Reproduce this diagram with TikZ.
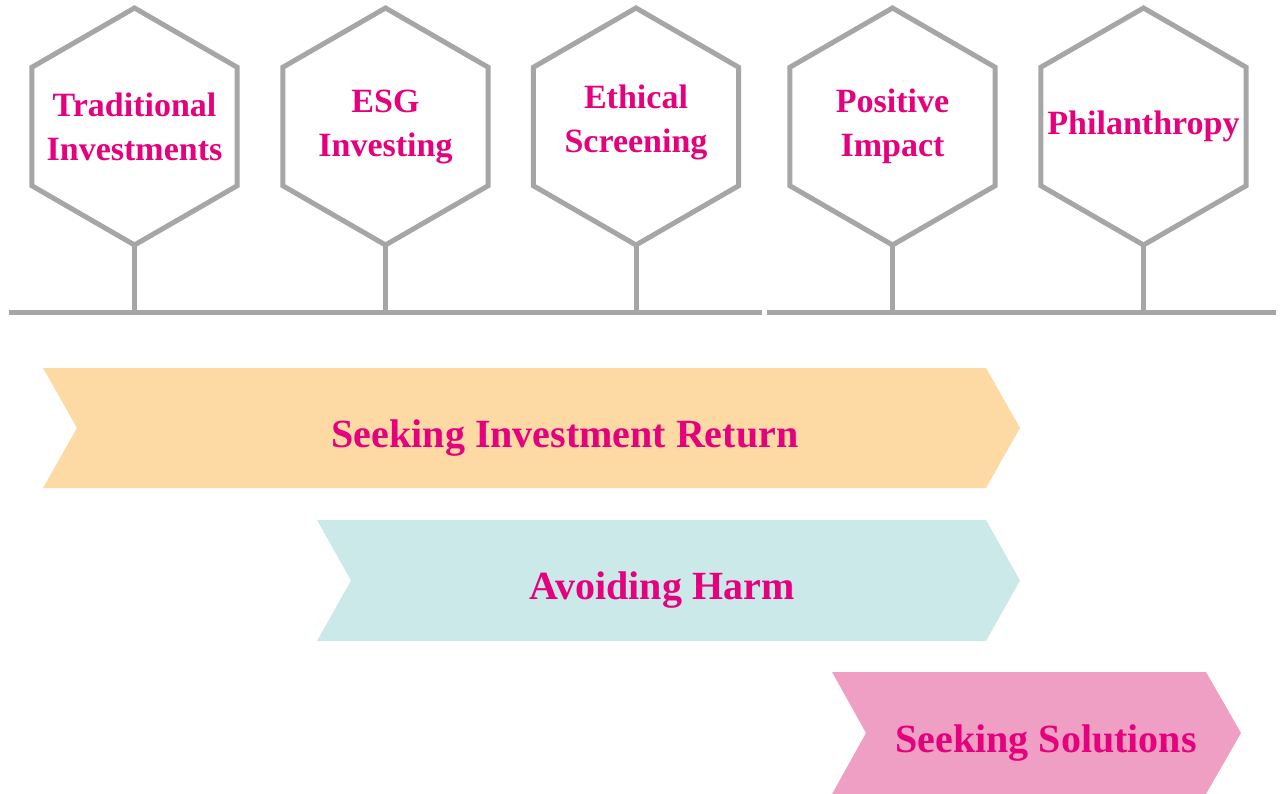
\documentclass[tikz,border=0pt]{standalone}
\usepackage{fontspec}
\setmainfont{Liberation Serif}
\usepackage{tikz}
\usetikzlibrary{shapes.geometric}
\definecolor{steel}{HTML}{A6A6A6}
\definecolor{ink}{HTML}{E5007D}
\definecolor{sand}{HTML}{FDDAA4}
\definecolor{mint}{HTML}{CCE9E9}
\definecolor{rose}{HTML}{EF9EC4}

\begin{document}
\begin{tikzpicture}[x=1pt,y=-1pt,
  hexa/.style={draw=steel,line width=5pt,regular polygon,regular polygon sides=6,
    shape border rotate=30,minimum size=237pt,inner sep=0pt,outer sep=0pt},
  hexlabel/.style={text=ink,font=\fontsize{34}{44}\selectfont\bfseries,align=center},
  bandlabel/.style={text=ink,font=\fontsize{40}{48}\selectfont\bfseries,anchor=base},
  rail/.style={steel,line width=5pt}]
\useasboundingbox (0,0) rectangle (1280,794);

\node[hexa] (h1) at (134.5,126.5) {};
\node[hexa] (h2) at (385.5,126.5) {};
\node[hexa] (h3) at (636,126.5) {};
\node[hexa] (h4) at (892.5,126.5) {};
\node[hexa] (h5) at (1143.5,126.5) {};

\node[hexlabel] (t1) at (h1) {Traditional\\Investments};
\node[hexlabel] (t2) at (h2) {ESG\\Investing};
\node[hexlabel] (t3) at ([yshift=4pt]h3.center) {Ethical\\Screening};
\node[hexlabel] (t4) at (h4) {Positive\\Impact};
\node[hexlabel] (t5) at (h5) {Philanthropy};

\coordinate (railA) at (9,313);
\coordinate (railB) at (762,313);
\coordinate (railC) at (767,313);
\coordinate (railD) at (1276,313);
\draw[rail] (railA) -- (railB);
\draw[rail] (railC) -- (railD);
\foreach \h in {h1,h2,h3,h4,h5}
  \draw[rail] (\h.south) -- (\h.south |- railA);

\fill[sand] (43,368) -- (986,368) -- (1020,428) -- (986,488) -- (43,488) -- (77,428) -- cycle;
\fill[mint] (317,520) -- (986,520) -- (1020,580.5) -- (986,641) -- (317,641) -- (351,580.5) -- cycle;
\fill[rose] (832,672) -- (1206,672) -- (1241,733) -- (1206,794) -- (832,794) -- (866,733) -- cycle;

\node[bandlabel] (ret) at (565,447) {Seeking Investment Return};
\node[bandlabel] (harm) at (662,599) {Avoiding Harm};
\node[bandlabel] (sol) at (1046,752) {Seeking Solutions};

\end{tikzpicture}
\end{document}
